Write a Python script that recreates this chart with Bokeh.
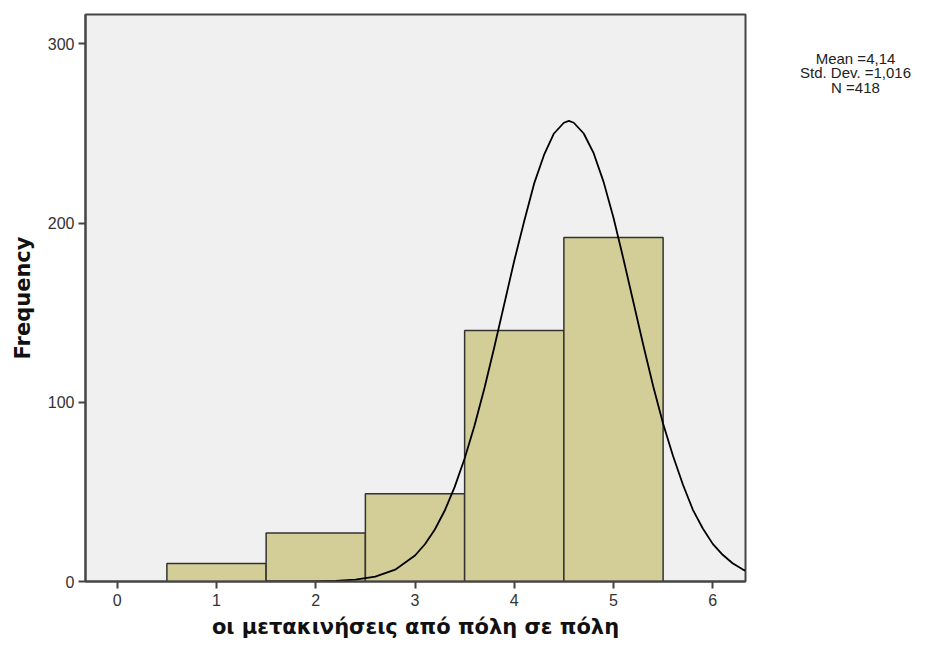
from bokeh.plotting import figure
from bokeh.models import FixedTicker, Label, ColumnDataSource
from bokeh.layouts import row
from bokeh.embed import file_html
from bokeh.resources import INLINE

# Histogram data
bin_centers = [1, 2, 3, 4, 5]
counts = [10, 27, 49, 140, 192]

# Normal curve as drawn in the reference
curve_x = [1.5, 2.0, 2.2, 2.4, 2.6, 2.8, 3.0, 3.1, 3.2, 3.3, 3.4, 3.5, 3.6, 3.7, 3.8, 3.9,
           4.0, 4.1, 4.2, 4.3, 4.4, 4.5, 4.55, 4.6, 4.7, 4.8, 4.9, 5.0, 5.1, 5.2, 5.3,
           5.4, 5.5, 5.6, 5.7, 5.8, 5.9, 6.0, 6.1, 6.2, 6.3, 6.33]
curve_y = [0.0, 0.1, 0.35, 1.0, 2.7, 6.6, 14.5, 20.8, 29, 39.6, 52.8, 68.6, 87.1, 108, 131, 155,
           179, 201, 222, 238, 250, 256, 257, 256, 250, 239, 223, 203, 180, 156, 132,
           109, 88, 70, 54, 40, 29.6, 21, 14.9, 10.2, 6.8, 6.0]

x_ticks = [0, 1, 2, 3, 4, 5, 6]
y_ticks = [0, 100, 200, 300]

stats_lines = ["Mean =4,14", "Std. Dev. =1,016", "N =418"]

x_title = "οι μετακινήσεις από πόλη σε πόλη"
y_title = "Frequency"

p = figure(width=747, height=641, output_backend="svg", toolbar_location=None,
           x_range=(-0.32, 6.33), y_range=(0, 316.4),
           min_border_left=85, min_border_right=2, min_border_top=14, min_border_bottom=59)

p.background_fill_color = "#f0f0f0"
p.border_fill_color = "white"
p.outline_line_color = "#444444"
p.outline_line_width = 2
p.xgrid.visible = False
p.ygrid.visible = False

src = ColumnDataSource(dict(x=bin_centers, top=counts))
p.vbar(x="x", top="top", bottom=0, width=1.0, source=src,
       fill_color="#d3ce97", line_color="#333333", line_width=1.5)

p.line(curve_x, curve_y, line_color="black", line_width=1.8)

for ax in (p.xaxis[0], p.yaxis[0]):
    ax.axis_line_color = "#444444"
    ax.axis_line_width = 2
    ax.major_tick_line_color = "#444444"
    ax.major_tick_line_width = 2
    ax.major_tick_out = 7
    ax.major_tick_in = 0
    ax.minor_tick_line_color = None
    ax.major_label_text_font = "Liberation Sans"
    ax.major_label_text_font_size = "16px"
    ax.major_label_text_color = "#333333"
    ax.axis_label_text_font = "DejaVu Sans"
    ax.axis_label_text_font_style = "bold"
    ax.axis_label_text_font_size = "21px"
    ax.axis_label_text_color = "#111111"

p.xaxis[0].ticker = FixedTicker(ticks=x_ticks)
p.yaxis[0].ticker = FixedTicker(ticks=y_ticks)
p.xaxis[0].axis_label = x_title
p.yaxis[0].axis_label = y_title
p.xaxis[0].major_label_standoff = 5
p.xaxis[0].axis_label_standoff = 6
p.yaxis[0].major_label_standoff = 4
p.yaxis[0].axis_label_standoff = 10

# Side panel for the statistics text
side = figure(width=170, height=641, output_backend="svg", toolbar_location=None,
              x_range=(0, 170), y_range=(0, 641),
              min_border_left=0, min_border_right=0, min_border_top=0, min_border_bottom=0)
side.axis.visible = False
side.grid.visible = False
side.outline_line_color = None
side.background_fill_color = "white"

label_y = [591, 575, 559]
for txt, yy in zip(stats_lines, label_y):
    side.add_layout(Label(x=108, y=yy, text=txt, text_align="center", text_baseline="middle",
                          text_font="Liberation Sans", text_font_size="15px", text_color="#222222"))

layout = row(p, side, spacing=0)
open("out.html", "w").write(file_html(layout, INLINE))
